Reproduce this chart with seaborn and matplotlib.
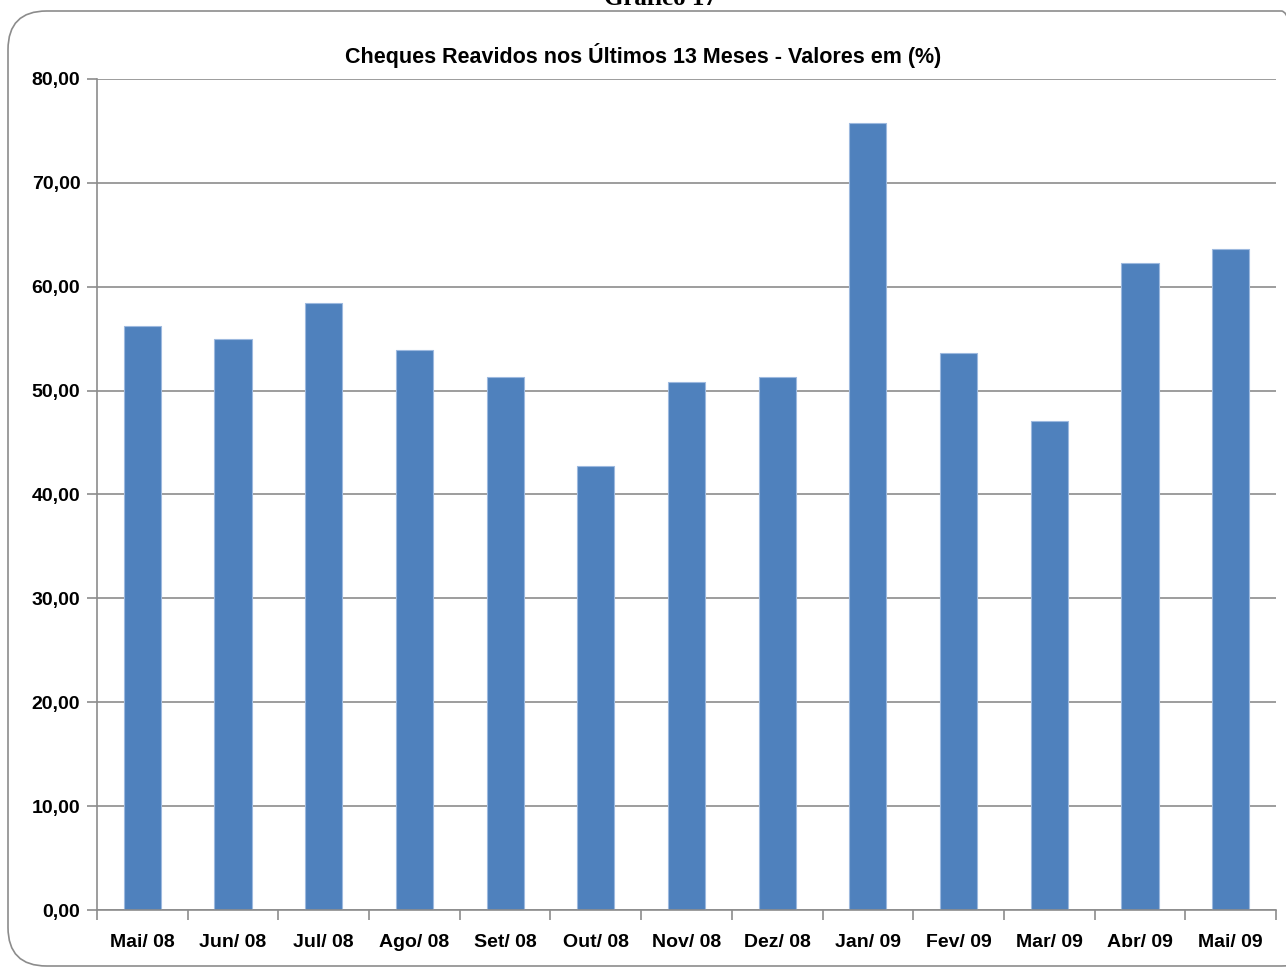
import matplotlib
matplotlib.use("Agg")
import matplotlib.pyplot as plt
import seaborn as sns
import pandas as pd
from matplotlib.patches import FancyBboxPatch
from matplotlib.ticker import FuncFormatter, FixedLocator
import numpy as np

months = ["Mai/ 08", "Jun/ 08", "Jul/ 08", "Ago/ 08", "Set/ 08", "Out/ 08", "Nov/ 08",
          "Dez/ 08", "Jan/ 09", "Fev/ 09", "Mar/ 09", "Abr/ 09", "Mai/ 09"]
values = [56.22, 54.97, 58.44, 53.91, 51.31, 42.74, 50.83, 51.31, 75.76, 53.62, 47.08, 62.29, 63.64]

title = "Cheques Reavidos nos Últimos 13 Meses - Valores em (%)"
header = "Gráfico 17"

sns.set_style("white")
plt.rcParams['font.family'] = ['Liberation Sans', 'DejaVu Sans']
plt.rcParams['text.color'] = 'black'
plt.rcParams['xtick.color'] = 'black'
plt.rcParams['ytick.color'] = 'black'

W, H = 1286, 968
fig = plt.figure(figsize=(W / 100, H / 100), dpi=100)
ax = fig.add_axes([97 / W, 1 - 910 / H, (1276 - 97) / W, (910 - 79) / H])

df = pd.DataFrame({"mes": months, "valor": values})
sns.barplot(data=df, x="mes", y="valor", color="#4F81BD", saturation=1, width=0.41,
            edgecolor="#9DB9DF", linewidth=0.8, ax=ax)

ax.set_xlim(-0.5, len(months) - 0.5)
ax.set_ylim(0, 80)
ax.set_yticks(np.arange(0, 81, 10))
ax.yaxis.set_major_formatter(FuncFormatter(lambda v, p: f"{v:.2f}".replace(".", ",")))
ax.grid(axis="y", color="#8C8C8C", linewidth=1.2)
ax.set_axisbelow(True)
ax.set_xlabel("")
ax.set_ylabel("")

for s in ["top", "right"]:
    ax.spines[s].set_visible(False)
for s in ["left", "bottom"]:
    ax.spines[s].set_color("#8C8C8C")
    ax.spines[s].set_linewidth(1.2)

ax.xaxis.set_minor_locator(FixedLocator(np.arange(-0.5, len(months), 1.0)))
ax.tick_params(axis="x", which="major", length=0, pad=17, labelsize=14, labelcolor="black")
ax.tick_params(axis="x", which="minor", length=7, width=1.2, color="#8C8C8C", bottom=True)
ax.tick_params(axis="y", which="major", length=7, width=1.2, color="#8C8C8C", left=True,
               labelsize=14, pad=5, labelcolor="black")
for lab in ax.get_xticklabels() + ax.get_yticklabels():
    lab.set_fontweight("bold")

fig.text(643 / W, 1 - 56 / H, title, ha="center", va="center", fontsize=15.5,
         fontweight="bold", color="black")
fig.text(660 / W, 1 - 5 / H, header, ha="center", va="baseline", fontsize=18,
         fontweight="bold", color="black", family=['Liberation Serif', 'DejaVu Serif'])

frame = FancyBboxPatch((8 / W, 1 - 966 / H), (1320 - 8) / W, (966 - 11) / H,
                       boxstyle="round,pad=0,rounding_size=0.03",
                       transform=fig.transFigure, fill=False, edgecolor="#8C8C8C",
                       linewidth=1.2, mutation_aspect=W / H, clip_on=False)
fig.patches.append(frame)

fig.savefig("out.png", dpi=100)
